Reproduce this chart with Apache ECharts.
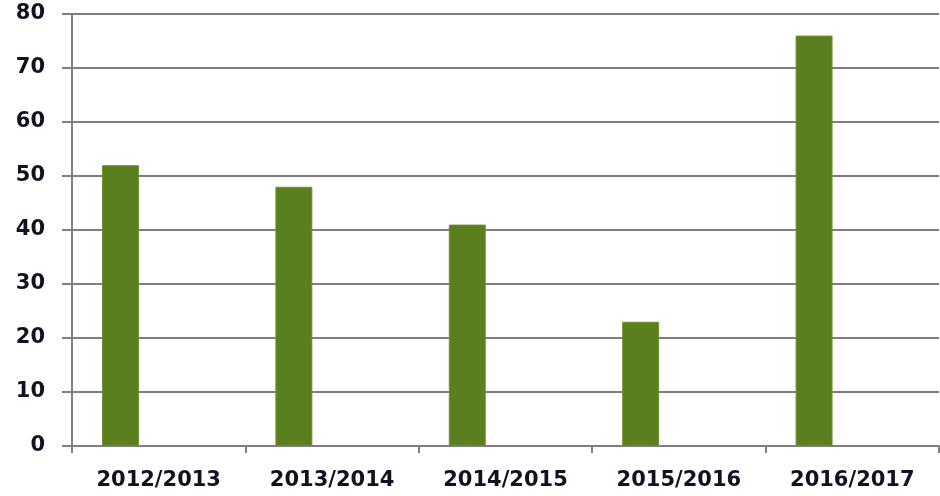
<!DOCTYPE html>
<html><head><meta charset="utf-8">
<script src="https://cdn.jsdelivr.net/npm/echarts@6/dist/echarts.min.js"></script>
<style>html,body{margin:0;padding:0;background:#fff}#c{width:940px;height:496px}</style>
</head><body><div id="c"></div>
<script>
const categories = ['2012/2013','2013/2014','2014/2015','2015/2016','2016/2017'];
const values = [52, 48, 41, 23, 76];
const emptySeries = [null, null, null, null, null];
const yTicks = [0, 10, 20, 30, 40, 50, 60, 70, 80];

const chart = echarts.init(document.getElementById('c'), null, {renderer:'canvas'});
const lineStyle = {color:'#7f7f7f', width:2};
const font = {fontFamily:'DejaVu Sans', fontWeight:'bold', fontSize:21, color:'#111122'};
chart.setOption({
  animation:false,
  backgroundColor:'#ffffff',
  grid:{left:72, right:1, top:14, bottom:50, containLabel:false},
  xAxis:{
    type:'category', data:categories,
    axisLine:{lineStyle:lineStyle},
    axisTick:{show:true, length:7, lineStyle:lineStyle, alignWithLabel:false},
    axisLabel:Object.assign({margin:24, interval:0}, font),
    splitLine:{show:false}
  },
  yAxis:{
    type:'value', min:yTicks[0], max:yTicks[yTicks.length-1], interval:10,
    axisLine:{show:true, lineStyle:lineStyle},
    axisTick:{show:true, length:10, lineStyle:lineStyle},
    axisLabel:Object.assign({margin:27}, font),
    splitLine:{show:true, lineStyle:lineStyle}
  },
  series:[
    {type:'bar', data:values, barCategoryGap:'34.6%', barGap:'107%',
     itemStyle:{color:'#5b7f1f', borderColor:'#6c8f30', borderWidth:1}},
    {type:'bar', data:emptySeries}
  ]
});
</script></body></html>
